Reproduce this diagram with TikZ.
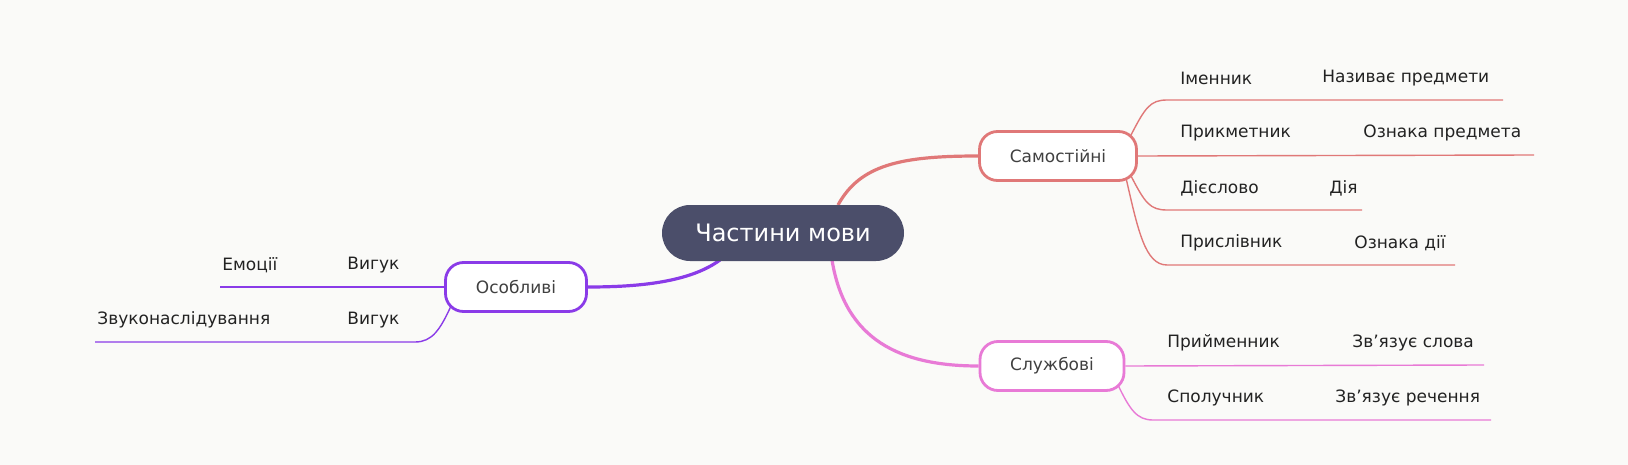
\documentclass[tikz,border=0pt]{standalone}
\usepackage{fontspec}
\setmainfont{DejaVu Sans}
\definecolor{bg}{HTML}{FAFAF8}
\definecolor{rootc}{HTML}{4B4E6A}
\definecolor{redc}{HTML}{E07878}
\definecolor{pinkc}{HTML}{E87AD6}
\definecolor{purc}{HTML}{8A3BE8}
\definecolor{txt}{HTML}{222222}
\begin{document}
\begin{tikzpicture}[x=0.5pt,y=-0.5pt,
  box/.style={draw=#1,line width=1.4pt,fill=white,rounded corners=9pt,minimum height=24.5pt,inner sep=0pt,font=\fontsize{8.5}{10}\selectfont,text=black!75},
  leaf/.style={anchor=west,inner sep=0pt,font=\fontsize{8.5}{10}\selectfont,text=txt},
  br/.style={draw=#1,line width=1.6pt},
  lf/.style={draw=#1,line width=0.7pt}]
\fill[bg] (0,0) rectangle (1628,465);
\useasboundingbox (0,0) rectangle (1628,465);
% branches first
\coordinate (rs) at (838,205);
\coordinate (rp) at (720,260);
\coordinate (rk) at (832,260);
\node[box=redc,minimum width=78.5pt] (s) at (1058,156) {Самостійні};
\node[box=pinkc,minimum width=72pt] (k) at (1052,366) {Службові};
\node[box=purc,minimum width=70.5pt] (o) at (516,287) {Особливі};
\draw[br=redc] (rs) .. controls (860,165) and (900,156) .. (s.west);
\draw[br=pinkc] (rk) .. controls (845,340) and (900,366) .. (k.west);
\draw[br=purc] (rp) .. controls (690,282) and (640,287) .. (o.east);
\node[fill=rootc,rounded corners=14pt,minimum width=121pt,minimum height=28pt,text=white,font=\fontsize{12}{14}\selectfont] (root) at (783,233) {Частини мови};
% Samostiini leaves
\node[leaf] (a1) at (1180,78) {Іменник};
\node[leaf] (a2) at (1322,78) {Називає предмети};
\coordinate (e1) at (1503,100);
\draw[lf=redc] (1131,135) .. controls (1145,108) and (1150,100) .. (1167,100) -- (e1);
\node[leaf] (b1) at (1180,133) {Прикметник};
\node[leaf] (b2) at (1363,133) {Ознака предмета};
\coordinate (e2) at (1534,155);
\draw[lf=redc] (s.east) -- (e2);
\node[leaf] (c1) at (1180,188) {Дієслово};
\node[leaf] (c2) at (1329,188) {Дія};
\coordinate (e3) at (1362,210);
\draw[lf=redc] (1131,176) .. controls (1145,203) and (1150,210) .. (1167,210) -- (e3);
\node[leaf] (d1) at (1180,243) {Прислівник};
\node[leaf] (d2) at (1354,243) {Ознака дії};
\coordinate (e4) at (1455,265);
\draw[lf=redc] (1126,178) .. controls (1138,230) and (1145,265) .. (1167,265) -- (e4);
% Sluzhbovi leaves
\node[leaf] (f1) at (1167,343) {Прийменник};
\node[leaf] (f2) at (1352,343) {Зв'язує слова};
\coordinate (e5) at (1484,365);
\draw[lf=pinkc] (k.east) -- (e5);
\node[leaf] (g1) at (1167,398) {Сполучник};
\node[leaf] (g2) at (1335,398) {Зв'язує речення};
\coordinate (e6) at (1491,420);
\draw[lf=pinkc] (1118,385) .. controls (1130,410) and (1137,420) .. (1153,420) -- (e6);
% Osoblyvi leaves
\node[leaf] (h1) at (222,265) {Емоції};
\node[leaf] (h2) at (347,265) {Вигук};
\coordinate (e7) at (220,287);
\draw[lf=purc] (o.west) -- (e7);
\node[leaf] (i1) at (97,320) {Звуконаслідування};
\node[leaf] (i2) at (347,320) {Вигук};
\coordinate (e8) at (95,342);
\draw[lf=purc] (451,306) .. controls (440,330) and (432,342) .. (415,342) -- (e8);
\end{tikzpicture}
\end{document}
